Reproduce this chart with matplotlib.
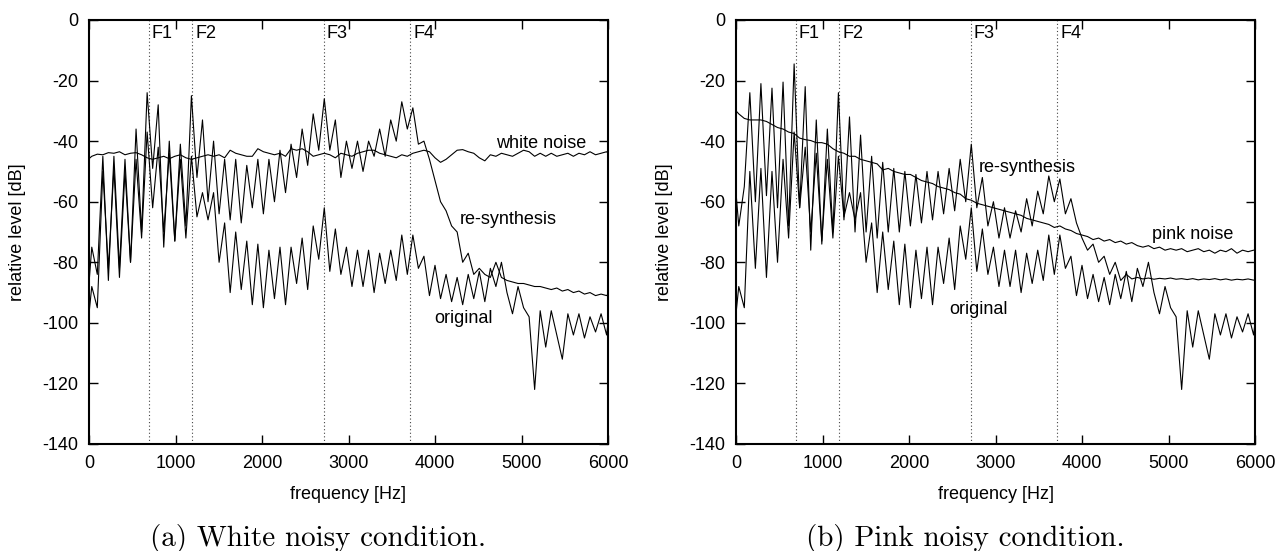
import numpy as np
import matplotlib
matplotlib.use("Agg")
import matplotlib.pyplot as plt
from matplotlib import font_manager as fm

# ---------------- data ----------------
# frequency grid [Hz]: 0, then alternating harmonic peaks / troughs every 64 Hz, then 6000
freq = np.concatenate(([0.0], 32.0 + 64.0 * np.arange(94), [6000.0]))

formants = [690, 1195, 2715, 3715]
formant_labels = ["F1", "F2", "F3", "F4"]

original = [
    -97, -88, -95, -50, -82, -49, -85, -50,
    -80, -46, -72, -37, -62, -42, -70, -44,
    -73, -46, -72, -45, -65, -57, -66, -57,
    -80, -67, -90, -70, -89, -73, -94, -74,
    -95, -76, -92, -75, -94, -75, -87, -72,
    -89, -68, -79, -62, -83, -69, -84, -75,
    -88, -76, -88, -76, -90, -77, -87, -76,
    -86, -71, -84, -71, -82, -78, -91, -81,
    -92, -84, -93, -85, -94, -84, -92, -83,
    -93, -82, -88, -80, -90, -97, -88, -95,
    -98, -122, -96, -108, -96, -104, -112, -97,
    -104, -97, -105, -98, -103, -97, -104, -100,
]

resynth_white = [
    -87, -75, -84, -45, -86, -45, -82, -46,
    -80, -36, -70, -24, -49, -28, -75, -40,
    -73, -41, -68, -25, -52, -33, -60, -40,
    -64, -46, -66, -46, -67, -48, -62, -46,
    -64, -46, -60, -43, -57, -41, -52, -36,
    -48, -31, -43, -26, -43, -33, -52, -40,
    -49, -40, -50, -40, -45, -36, -45, -33,
    -40, -27, -36, -29, -41, -40, -46, -53,
    -60, -63, -68, -70, -80, -77, -84, -82,
    -84, -85, -80, -85, -86, -86.5, -87, -87,
    -87.5, -88, -88, -88.5, -89, -88.5, -89.5, -89,
    -90, -89.5, -90.5, -90, -91, -90.5, -91, -90.5,
]

white_noise = [
    -45.8, -45, -44.3, -44.5, -43.8, -44, -43.5, -44.5,
    -44, -43.8, -44.5, -45.5, -46, -45.5, -45, -45.8,
    -45, -44.5, -45.5, -46, -45.5, -45, -44.5, -45,
    -44.5, -45.5, -43, -44, -44.5, -45, -45, -42.5,
    -43.5, -44, -44.5, -44, -45, -42.5, -43, -42.5,
    -43.5, -45, -44.5, -44, -44.5, -45.5, -44, -44.5,
    -45, -44, -43.5, -43, -43, -44, -44.5, -45,
    -45.5, -44.5, -45, -44, -43.5, -43, -43.5, -45.5,
    -47, -46, -44.5, -43, -42.8, -43.5, -44, -45.5,
    -46.5, -44.5, -45, -44, -44.5, -45, -44, -43,
    -43.5, -45, -44, -45, -44, -45, -44.5, -44,
    -45, -44, -44.5, -43.5, -44.5, -44, -43.5, -44,
]

resynth_pink = [
    -57, -68, -55, -24, -60, -21, -58, -22.5,
    -62, -20.5, -68, -14.5, -62, -22, -76, -33,
    -74, -36, -70, -24, -66, -32, -70, -38,
    -70, -45, -72, -47, -70, -49, -70, -50,
    -68, -51, -67, -50, -66, -50, -64, -49,
    -63, -46, -60, -41, -62, -52, -68, -60,
    -72, -62, -72, -63, -70, -59, -68, -56.5,
    -64, -51.5, -60, -52.5, -64, -59, -67, -72,
    -76, -74, -80, -78, -84, -80, -86, -84,
    -85.5, -85, -85.5, -85.2, -85.6, -85.3, -85.5, -85.2,
    -85.6, -85.4, -85.7, -85.4, -85.8, -85.5, -85.7, -85.4,
    -85.8, -85.5, -85.9, -85.6, -85.8, -85.5, -85.9, -85.8,
]

pink_noise = [
    -30, -31, -32.5, -33, -33, -33, -33.5, -34.5,
    -35.5, -36, -37, -37.5, -39, -39.5, -39.8, -40.5,
    -40.5, -41, -42.5, -43.5, -44, -45, -45, -46,
    -46.5, -47, -47.5, -49.5, -49, -50, -50.5, -51,
    -51, -52, -53, -53.5, -54, -55, -55.5, -56,
    -57, -57.5, -59, -59.5, -60.5, -61, -61.5, -62,
    -62.5, -63, -63.5, -64, -64.5, -65.5, -66, -66.5,
    -67, -67.5, -68.5, -68, -69, -69.5, -70.5, -71,
    -71.5, -72.5, -72, -73, -72.5, -73.5, -73, -74,
    -73.5, -74.5, -75, -74.5, -75.5, -75, -76, -75.5,
    -76, -75.5, -76.5, -76, -75.5, -76.5, -76, -77,
    -76, -76.5, -75.5, -77, -76, -76.5, -76, -76,
]

panels = [
    {
        "series": [white_noise, resynth_white, original],
        "labels": [("white noise", 4700, -42.3), ("re-synthesis", 4290, -67.3), ("original", 3990, -100.2)],
        "caption": "(a) White noisy condition.",
    },
    {
        "series": [pink_noise, resynth_pink, original],
        "labels": [("re-synthesis", 2810, -50.3), ("pink noise", 4810, -72.3), ("original", 2460, -97.2)],
        "caption": "(b) Pink noisy condition.",
    },
]

xticks = [0, 1000, 2000, 3000, 4000, 5000, 6000]
yticks = [-140, -120, -100, -80, -60, -40, -20, 0]

# ---------------- style ----------------
names = {f.name for f in fm.fontManager.ttflist}
if "Liberation Sans Narrow" in names:
    sans = ["Liberation Sans Narrow", "DejaVu Sans"]
    fs = 15
else:
    sans = ["Liberation Sans", "DejaVu Sans"]
    fs = 13
plt.rcParams["font.family"] = sans
plt.rcParams["axes.unicode_minus"] = False

W, H = 1278, 551
fig = plt.figure(figsize=(W / 100, H / 100), dpi=100)

ax_lefts = [89, 736]
cap_centers = [318, 965]
for p, (panel, left) in enumerate(zip(panels, ax_lefts)):
    ax = fig.add_axes([left / W, 107 / H, 519 / W, 424 / H])
    ax.set_xlim(0, 6000)
    ax.set_ylim(-140, 0)
    for f in formants:
        ax.axvline(f, color="#444444", lw=0.8, ls=(0, (1, 2.2)), zorder=1)
    for s in panel["series"]:
        n = min(len(freq), len(s))
        ax.plot(freq[:n], s[:n], color="black", lw=0.8, zorder=2)
    for f, lab in zip(formants, formant_labels):
        ax.text(f + 35, -6, lab, fontsize=fs, ha="left", va="baseline", zorder=3)
    for txt, x, y in panel["labels"]:
        ax.text(x, y, txt, fontsize=fs, ha="left", va="baseline", zorder=3)
    ax.set_xticks(xticks)
    ax.set_yticks(yticks)
    ax.set_xticklabels([str(t) for t in xticks])
    ax.set_yticklabels([str(t) for t in yticks])
    ax.tick_params(direction="in", length=6.5, width=1.0, top=True, right=True,
                   labelsize=fs, pad=8)
    ax.tick_params(axis="x", pad=8)
    for sp in ax.spines.values():
        sp.set_linewidth(1.5)
    ax.set_xlabel("frequency [Hz]", fontsize=fs)
    ax.set_ylabel("relative level [dB]", fontsize=fs)
    ax.xaxis.set_label_coords(0.5, -0.10)
    ax.yaxis.set_label_coords(-0.122, 0.5)
    fig.text(cap_centers[p] / W, 5 / H, panel["caption"], family="cmr10",
             fontsize=21, ha="center", va="baseline")

fig.savefig("out.png", dpi=100)
